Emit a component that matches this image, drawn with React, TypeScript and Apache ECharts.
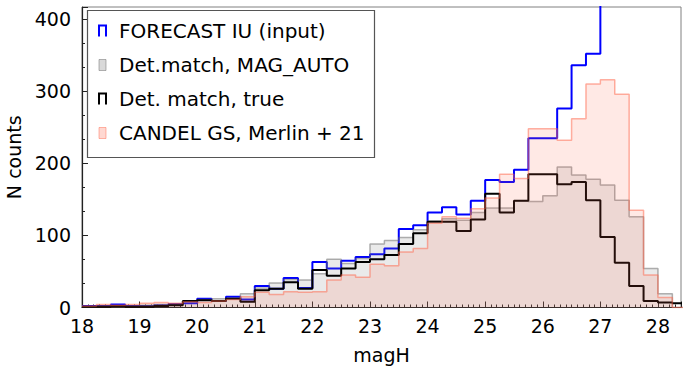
import React, { useEffect, useRef } from "react";
import * as echarts from "echarts";

// bin edges (left edges of 0.25 mag bins, plus final right edge)
const binEdges = [
  18.0, 18.25, 18.5, 18.75, 19.0, 19.25, 19.5, 19.75, 20.0, 20.25, 20.5, 20.75,
  21.0, 21.25, 21.5, 21.75, 22.0, 22.25, 22.5, 22.75, 23.0, 23.25, 23.5, 23.75,
  24.0, 24.25, 24.5, 24.75, 25.0, 25.25, 25.5, 25.75, 26.0, 26.25, 26.5, 26.75,
  27.0, 27.25, 27.5, 27.75, 28.0, 28.25, 28.5,
];

const forecastIU = [
  2, 2, 4, 2, 2, 3, 5, 6, 12, 9, 15, 11,
  30, 26, 41, 27, 63, 54, 65, 70, 74, 82, 109, 114,
  132, 139, 129, 148, 177, 174, 191, 235, 235, 276, 336, 352,
  470, 520, 540, 500, 460, 440,
];

const detMatchAuto = [
  1, 2, 2, 2, 3, 4, 5, 8, 11, 12, 13, 19,
  27, 34, 39, 38, 47, 67, 61, 68, 88, 93, 97, 108,
  120, 123, 121, 132, 138, 138, 148, 147, 155, 195, 184, 178,
  170, 149, 126, 54, 19, 0,
];

const detMatchTrue = [
  1, 1, 2, 1, 1, 2, 3, 9, 10, 9, 12, 8,
  24, 26, 35, 26, 52, 44, 54, 63, 67, 73, 88, 103,
  119, 119, 106, 122, 158, 132, 148, 185, 185, 171, 174, 149,
  98, 62, 30, 9, 7, 6,
];

const candelsGS = [
  2, 4, 3, 4, 6, 7, 6, 8, 7, 9, 11, 15,
  21, 18, 22, 21, 22, 38, 45, 42, 60, 58, 77, 82,
  117, 126, 124, 137, 152, 185, 179, 248, 248, 232, 262, 310,
  316, 296, 135, 45, 14, 0,
];

const legendLabels = [
  "FORECAST IU (input)",
  "Det.match, MAG_AUTO",
  "Det. match, true",
  "CANDEL GS, Merlin + 21",
];

const toSteps = (vals: number[]) =>
  binEdges.map((e, i) => [e, i < vals.length ? vals[i] : vals[vals.length - 1]]);

const FONT = "DejaVu Sans";

export default function App() {
  const ref = useRef<HTMLDivElement>(null);
  useEffect(() => {
    if (!ref.current) return;
    const chart = echarts.init(ref.current, undefined, { renderer: "svg" });

    const lx = 99;
    const ly = [31, 65, 99, 133];
    const iconW = 7;
    const iconH = 11;
    const legendGraphics: any[] = [
      {
        type: "rect",
        shape: { x: 87.5, y: 10.5, width: 287, height: 147 },
        style: { fill: "#fff", stroke: "#555", lineWidth: 1.2 },
        z: 100,
      },
      {
        type: "polyline",
        shape: { points: [[lx, ly[0] + iconH / 2], [lx, ly[0] - iconH / 2], [lx + iconW, ly[0] - iconH / 2], [lx + iconW, ly[0] + iconH / 2]] },
        style: { stroke: "#0000ff", lineWidth: 2, fill: null },
        z: 101,
      },
      {
        type: "rect",
        shape: { x: lx, y: ly[1] - iconH / 2, width: iconW, height: iconH },
        style: { fill: "rgba(128,128,128,0.3)", stroke: "rgba(110,110,110,0.5)", lineWidth: 1 },
        z: 101,
      },
      {
        type: "polyline",
        shape: { points: [[lx, ly[2] + iconH / 2], [lx, ly[2] - iconH / 2], [lx + iconW, ly[2] - iconH / 2], [lx + iconW, ly[2] + iconH / 2]] },
        style: { stroke: "#000", lineWidth: 2, fill: null },
        z: 101,
      },
      {
        type: "rect",
        shape: { x: lx, y: ly[3] - iconH / 2, width: iconW, height: iconH },
        style: { fill: "rgba(255,99,71,0.25)", stroke: "rgba(255,99,71,0.45)", lineWidth: 1 },
        z: 101,
      },
      ...legendLabels.map((t, i) => ({
        type: "text",
        x: 119,
        y: ly[i],
        style: {
          text: t,
          font: `20px '${FONT}'`,
          fill: "#000",
          textVerticalAlign: "middle",
          verticalAlign: "middle",
        },
        z: 101,
      })),
    ];

    chart.setOption({
      animation: false,
      grid: {
        left: 82,
        right: 2,
        top: 7,
        bottom: 62.5,
        show: true,
        borderColor: "#808080",
        borderWidth: 1,
        containLabel: false,
        outerBoundsMode: "none",
      },
      xAxis: {
        type: "value",
        min: 18,
        max: 28.4,
        interval: 1,
        name: "magH",
        nameLocation: "middle",
        nameGap: 38,
        nameTextStyle: { fontFamily: FONT, fontSize: 19, color: "#000" },
        axisLine: { show: true, onZero: false, lineStyle: { color: "#222", width: 1.2 } },
        axisTick: { show: true, inside: true, length: 6, lineStyle: { color: "#222" } },
        minorTick: { show: true, splitNumber: 10, length: 3, lineStyle: { color: "#222" } },
        splitLine: { show: false },
        axisLabel: {
          fontFamily: FONT,
          fontSize: 19,
          color: "#000",
          margin: 9,
          showMaxLabel: false,
          formatter: (v: number) => (Number.isInteger(v) ? String(v) : ""),
        },
      },
      yAxis: {
        type: "value",
        min: 0,
        max: 417,
        interval: 100,
        name: "N counts",
        nameLocation: "middle",
        nameGap: 58,
        nameTextStyle: { fontFamily: FONT, fontSize: 19, color: "#000" },
        axisLine: { show: true, lineStyle: { color: "#222", width: 1.2 } },
        axisTick: { show: true, inside: true, length: 6, lineStyle: { color: "#222" } },
        minorTick: { show: true, splitNumber: 3, length: 3, lineStyle: { color: "#222" } },
        splitLine: { show: false },
        axisLabel: { fontFamily: FONT, fontSize: 19, color: "#000", margin: 11 },
      },
      series: [
        {
          name: legendLabels[0],
          type: "line",
          step: "end",
          symbol: "none",
          data: toSteps(forecastIU),
          lineStyle: { color: "#0000ff", width: 2 },
          z: 2,
        },
        {
          name: legendLabels[1],
          type: "line",
          step: "end",
          symbol: "none",
          data: toSteps(detMatchAuto),
          lineStyle: { color: "rgba(100,100,100,0.5)", width: 1.5 },
          areaStyle: { color: "rgba(128,128,128,0.24)" },
          z: 3,
        },
        {
          name: legendLabels[2],
          type: "line",
          step: "end",
          symbol: "none",
          data: toSteps(detMatchTrue),
          lineStyle: { color: "#000", width: 2 },
          z: 4,
        },
        {
          name: legendLabels[3],
          type: "line",
          step: "end",
          symbol: "none",
          data: toSteps(candelsGS),
          lineStyle: { color: "rgba(255,99,71,0.5)", width: 1.5 },
          areaStyle: { color: "rgba(255,99,71,0.2)" },
          z: 5,
        },
      ],
      graphic: legendGraphics,
    });
    return () => chart.dispose();
  }, []);
  return <div ref={ref} style={{ width: 683, height: 370, position: "absolute", left: 0, top: 0 }} />;
}
